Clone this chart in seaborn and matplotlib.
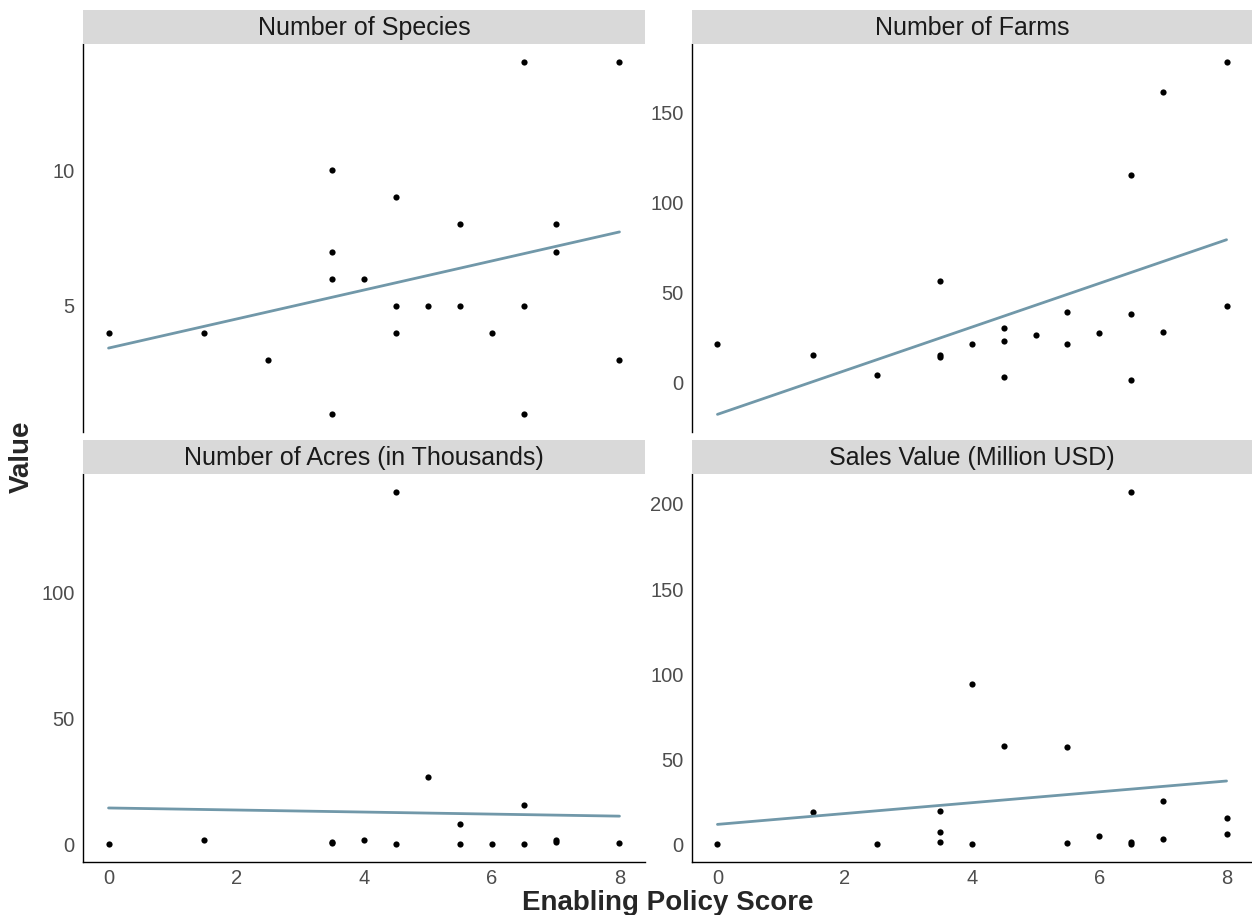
import numpy as np
import pandas as pd
import matplotlib
matplotlib.use("Agg")
import matplotlib.pyplot as plt
import seaborn as sns
from matplotlib.patches import Rectangle

# ---------------- data ----------------
panel_titles = ["Number of Species", "Number of Farms",
                "Number of Acres (in Thousands)", "Sales Value (Million USD)"]

species_x = [0, 1.5, 2.5, 3.5, 3.5, 3.5, 3.5, 4, 4.5, 4.5, 4.5, 5, 5.5, 5.5,
             6, 6.5, 6.5, 6.5, 7, 7, 8, 8]
species_y = [4, 4, 3, 10, 7, 6, 1, 6, 9, 5, 4, 5, 8, 5,
             4, 14, 5, 1, 8, 7, 14, 3]

farms_x = [0, 1.5, 2.5, 3.5, 3.5, 3.5, 4, 4.5, 4.5, 4.5, 5, 5.5, 5.5,
           6, 6.5, 6.5, 6.5, 7, 7, 8, 8]
farms_y = [21, 15, 4, 56, 15, 14, 21, 30, 23, 3, 26, 39, 21,
           27, 115, 38, 1, 161, 28, 178, 42]

acres_x = [0, 1.5, 3.5, 3.5, 4, 4.5, 4.5, 5, 5.5, 5.5, 6, 6.5, 6.5, 7, 7, 8]
acres_y = [0, 1.9, 0.8, 0.4, 1.9, 140, 0.3, 26.7, 8.1, 0.1, 0.1, 15.7, 0.1,
           1.6, 0.9, 0.7]

sales_x = [0, 1.5, 2.5, 3.5, 3.5, 3.5, 4, 4, 4.5, 5.5, 5.5, 6, 6.5, 6.5, 6.5,
           7, 7, 8, 8]
sales_y = [0.2, 19.2, 0, 19.4, 7.0, 1.4, 94.2, 0, 57.9, 57.3, 1.0, 4.7, 207.2,
           1.6, 0, 25.2, 3.3, 15.2, 6.1]

x_ticks = [0, 2, 4, 6, 8]
y_ticks = [[5, 10], [0, 50, 100, 150], [0, 50, 100], [0, 50, 100, 150, 200]]

frames = []
for title, xs, ys in zip(panel_titles,
                         [species_x, farms_x, acres_x, sales_x],
                         [species_y, farms_y, acres_y, sales_y]):
    frames.append(pd.DataFrame({"score": xs, "value": ys, "metric": title}))
df = pd.concat(frames, ignore_index=True)

# ---------------- style ----------------
sns.set_style("white")
plt.rcParams["font.family"] = ["Liberation Sans", "DejaVu Sans"]

W, H = 1252, 915
fig = plt.figure(figsize=(W / 100, H / 100), dpi=100)


def box(l, t, r, b):
    return [l / W, 1 - b / H, (r - l) / W, (b - t) / H]


axes_px = [(83, 44, 645, 432), (692, 44, 1252, 432),
           (83, 474, 645, 862), (692, 474, 1252, 862)]
line_color = "#7198A9"

for i, title in enumerate(panel_titles):
    l, t, r, b = axes_px[i]
    ax = fig.add_axes(box(l, t, r, b))
    sub = df[df["metric"] == title]
    sns.regplot(data=sub, x="score", y="value", ax=ax, ci=None, truncate=True,
                scatter_kws=dict(s=20, color="black", linewidths=0, alpha=1),
                line_kws=dict(color=line_color, lw=2.0))
    ax.set_xlim(-0.4, 8.4)
    ax.margins(y=0.05)
    ax.autoscale_view(scalex=False, scaley=True)
    ax.set_yticks(y_ticks[i])
    ax.set_xlabel("")
    ax.set_ylabel("")
    for s in ["top", "right"]:
        ax.spines[s].set_visible(False)
    ax.spines["left"].set_color("black")
    ax.spines["left"].set_linewidth(1.0)
    ax.tick_params(axis="both", length=4, width=0.8, color="#333333",
                   labelcolor="#4D4D4D", labelsize=14.5, pad=2)
    ax.tick_params(axis="x", pad=1)
    if i < 2:
        ax.spines["bottom"].set_visible(False)
        ax.set_xticks([])
    else:
        ax.spines["bottom"].set_color("black")
        ax.spines["bottom"].set_linewidth(1.0)
        ax.set_xticks(x_ticks)
    ax.grid(False)

    # strip
    st = t - 34
    fig.patches.append(Rectangle((l / W, 1 - t / H), (r - l) / W, 34 / H,
                                 transform=fig.transFigure, facecolor="#D9D9D9",
                                 edgecolor="none", zorder=0))
    fig.text((l + r) / 2 / W, 1 - (st + 18) / H, title, ha="center",
             va="center", fontsize=18, color="#1A1A1A")

fig.text(22 / W, 1 - 457 / H, "Value", rotation=90, ha="center", va="center",
         fontsize=20, fontweight="bold")
fig.text(668 / W, 1 - 903 / H, "Enabling Policy Score", ha="center",
         va="center", fontsize=20, fontweight="bold")

fig.savefig("out.png", dpi=100, facecolor="white")
